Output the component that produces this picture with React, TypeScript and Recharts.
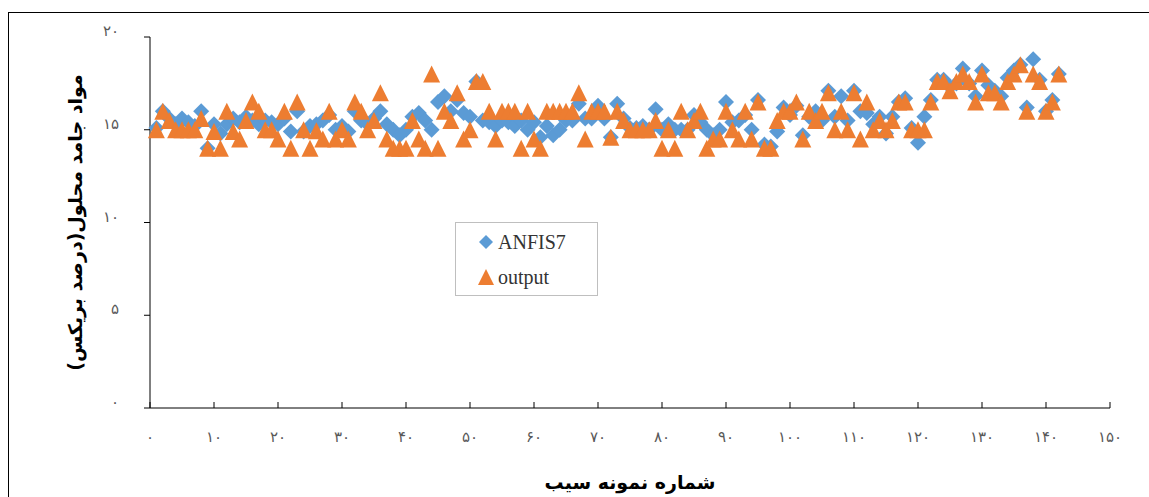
import React from "react";
import { ScatterChart, Scatter, XAxis, YAxis, Legend } from "recharts";

// sample numbers 1..142 on the x axis
const anfis7 = [
  15.1, 16, 15.6, 15.3, 15.6, 15.4, 15.2, 16, 14, 15.3, 14.8, 15.3, 15.6, 15.4, 15.7, 15.5, 15.3, 15.5, 15.4, 15.3,
  15.6, 14.9, 16, 14.9, 15.2, 15.3, 15.5, 15.8, 15, 15.2, 14.9, 16, 15.5, 15.3, 15.6, 16, 15.3, 15, 14.7, 15,
  15.7, 15.9, 15.5, 15, 16.5, 16.8, 16, 16.6, 15.9, 15.7, 17.6, 15.5, 15.4, 15.2, 15.5, 15.4, 15.2, 15.5, 15, 15.4,
  14.6, 15.2, 14.7, 15, 15.5, 15.5, 16.4, 15.6, 15.6, 16.3, 15.6, 14.6, 16.4, 15.6, 15.1, 15.1, 15.2, 15, 16.1, 15,
  15.3, 15, 15, 15, 15.8, 15.4, 15, 14.7, 15, 16.5, 15.4, 15.5, 15.8, 15, 16.6, 14.2, 14.1, 14.9, 16.2, 15.8,
  16.3, 14.7, 15.7, 16, 15.5, 17.1, 15.7, 16.8, 15.5, 17.1, 16, 15.9, 15.3, 15.7, 14.8, 15.7, 16.5, 16.7, 15.1, 14.3,
  15.7, 16.6, 17.7, 17.7, 17.3, 17.5, 18.3, 17.5, 16.8, 18.2, 17.4, 17.1, 16.8, 17.8, 18.2, 18.5, 16.2, 18.8, 17.7, 16,
  16.6, 18,
];

const output = [
  15, 16, 15.5, 15, 15, 15, 15, 15.6, 14, 14.9, 14, 16, 14.9, 14.5, 15.5, 16.5, 16, 15, 15, 14.5,
  16, 14, 16.5, 15, 14, 14.95, 14.5, 16, 14.5, 15, 14.5, 16.5, 16, 15, 15.5, 17, 14.5, 14, 14, 14,
  15.5, 14.5, 14, 18, 14, 16, 15.5, 17, 14.5, 15, 17.6, 17.6, 16, 14.5, 16, 16, 16, 14, 16, 14.5,
  14, 16, 16, 16, 16, 16, 17, 14.5, 16, 16, 16, 14.6, 16, 15.5, 15, 15, 15, 15, 15.5, 14,
  15, 14, 16, 15, 15.5, 16, 14, 14.5, 14.5, 16, 15, 14.5, 16, 14.5, 16.5, 14, 14, 15.5, 16, 16,
  16.5, 14.5, 16, 15.5, 16, 17, 15, 16, 15, 17, 14.5, 16.5, 15, 15.5, 15, 15.5, 16.5, 16.5, 15, 15,
  15, 16.5, 17.6, 17.6, 17.1, 17.6, 18, 17.6, 16.5, 18, 17, 17, 16.5, 17.6, 18, 18.5, 16, 18, 17.6, 16,
  16.5, 18,
];

const xTicks = [0, 10, 20, 30, 40, 50, 60, 70, 80, 90, 100, 110, 120, 130, 140, 150];
const xTickLabels = ["۰", "۱۰", "۲۰", "۳۰", "۴۰", "۵۰", "۶۰", "۷۰", "۸۰", "۹۰", "۱۰۰", "۱۱۰", "۱۲۰", "۱۳۰", "۱۴۰", "۱۵۰"];
const yTicks = [0, 5, 10, 15, 20];
const yTickLabels = ["۰", "۵", "۱۰", "۱۵", "۲۰"];

const xTitle = "شماره نمونه سیب";
const yTitle = "مواد جامد محلول(درصد بریکس)";

const BLUE = "#5B9BD5";
const ORANGE = "#ED7D31";
const faFont = "'DejaVu Sans', sans-serif";

const anfisData = anfis7.map((v, i) => ({ x: i + 1, y: v }));
const outputData = output.map((v, i) => ({ x: i + 1, y: v }));

const Diamond = ({ cx, cy, r = 8, fill = BLUE }: any) => (
  <polygon points={`${cx},${cy - r} ${cx + r},${cy} ${cx},${cy + r} ${cx - r},${cy}`} fill={fill} />
);

const Triangle = ({ cx, cy, r = 8.5, fill = ORANGE }: any) => (
  <polygon points={`${cx},${cy - r} ${cx + r},${cy + r} ${cx - r},${cy + r}`} fill={fill} />
);

const XTick = ({ x, y, payload }: any) => (
  <g>
    <line x1={x} y1={y} x2={x} y2={y - 6} stroke="#000" />
    <text x={x} y={y + 29} textAnchor="middle" dominantBaseline="central" fontFamily={faFont} fontSize={15} fill="#595959">
      {xTickLabels[xTicks.indexOf(payload.value)]}
    </text>
  </g>
);

const YTick = ({ x, y, payload }: any) => (
  <g>
    <line x1={x - 6} y1={y} x2={x} y2={y} stroke="#000" />
    <text x={x - 31} y={y - 6} textAnchor="end" dominantBaseline="central" fontFamily={faFont} fontSize={15} fill="#595959">
      {yTickLabels[yTicks.indexOf(payload.value)]}
    </text>
  </g>
);

const LegendBox = () => (
  <div
    style={{
      width: 143,
      height: 74,
      boxSizing: "border-box",
      border: "1px solid #bfbfbf",
      background: "#fff",
      fontFamily: "'Liberation Serif', 'Times New Roman', serif",
      fontSize: 20,
      color: "#333",
      paddingTop: 7,
    }}
  >
    <div style={{ display: "flex", alignItems: "center", height: 24, marginBottom: 11 }}>
      <svg width={42} height={24}>
        <Diamond cx={30} cy={12} r={7} />
      </svg>
      <span>ANFIS7</span>
    </div>
    <div style={{ display: "flex", alignItems: "center", height: 24 }}>
      <svg width={42} height={24}>
        <Triangle cx={30} cy={12} r={8} />
      </svg>
      <span>output</span>
    </div>
  </div>
);

export default function App() {
  return (
    <div style={{ position: "absolute", left: 8, top: 12, width: 1141, height: 485, overflow: "hidden" }}>
      <div
        style={{
          position: "absolute",
          left: 0,
          top: 0,
          width: 1170,
          height: 520,
          border: "1px solid #000",
          boxSizing: "border-box",
        }}
      />
      <div style={{ position: "absolute", left: 0, top: 0 }}>
        <ScatterChart width={1141} height={485} margin={{ top: 25, right: 39, bottom: 0, left: 5 }}>
          <XAxis
            type="number"
            dataKey="x"
            domain={[0, 150]}
            ticks={xTicks}
            interval={0}
            height={89}
            tickSize={0}
            tickMargin={0}
            tickLine={false}
            tick={<XTick />}
            axisLine={{ stroke: "#000" }}
            label={{
              value: xTitle,
              position: "insideBottom",
              offset: 8,
              style: { fontFamily: faFont, fontSize: 19, fontWeight: "bold", fill: "#000" },
            }}
          />
          <YAxis
            type="number"
            dataKey="y"
            domain={[0, 20]}
            ticks={yTicks}
            interval={0}
            width={137}
            tickSize={0}
            tickMargin={0}
            tickLine={false}
            tick={<YTick />}
            axisLine={{ stroke: "#000" }}
            label={{
              value: yTitle,
              angle: -90,
              position: "insideLeft",
              offset: 62,
              style: { fontFamily: faFont, fontSize: 19, fontWeight: "bold", fill: "#000", textAnchor: "middle" },
            }}
          />
          <Legend
            layout="vertical"
            align="center"
            verticalAlign="middle"
            wrapperStyle={{ left: 447, top: 210, width: 143, height: 74 }}
            content={<LegendBox />}
          />
          <Scatter name="ANFIS7" data={anfisData} fill={BLUE} shape={(p: any) => <Diamond cx={p.cx} cy={p.cy} />} isAnimationActive={false} />
          <Scatter name="output" data={outputData} fill={ORANGE} shape={(p: any) => <Triangle cx={p.cx} cy={p.cy} />} isAnimationActive={false} />
        </ScatterChart>
      </div>
    </div>
  );
}
